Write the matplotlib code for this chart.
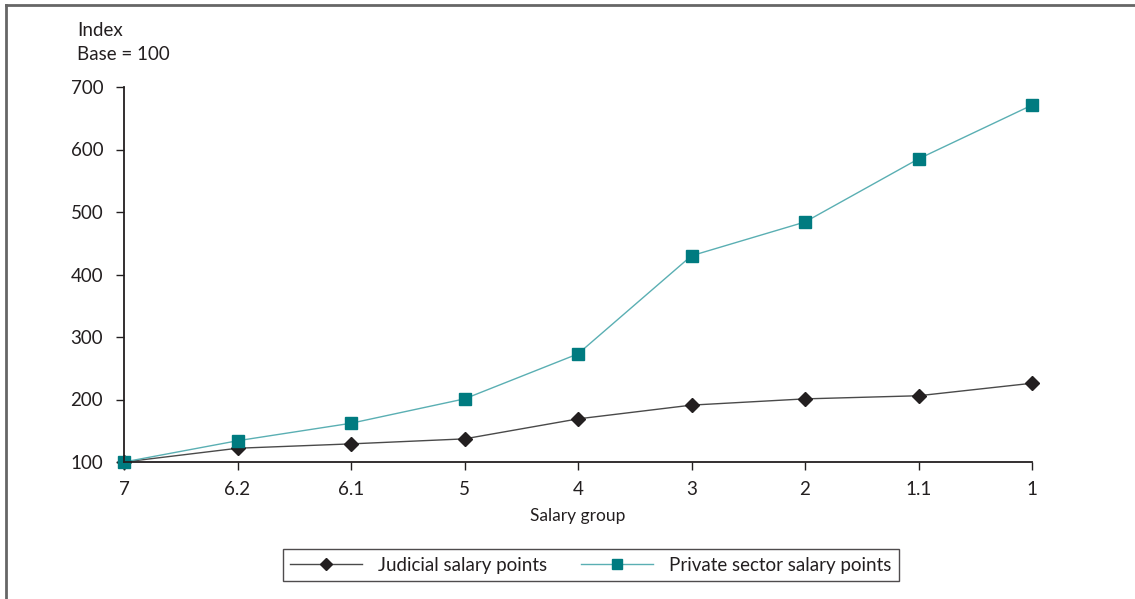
import matplotlib.pyplot as plt
from matplotlib.lines import Line2D

plt.rcParams['font.family'] = ['Lato', 'DejaVu Sans']

groups = ["7", "6.2", "6.1", "5", "4", "3", "2", "1.1", "1"]
judicial = [100, 122, 129, 137, 169, 191, 201, 206, 226]
private = [100, 134, 162, 201, 273, 430, 484, 585, 671]

fig = plt.figure(figsize=(11.35, 5.99), dpi=100)
W, H = 1135, 599
ax = fig.add_axes([124 / W, 1 - 462 / H, (1032 - 124) / W, (462 - 87) / H])

x = list(range(len(groups)))
ax.plot(x, judicial, color="#4a4a4a", lw=1, marker="D", ms=7.5,
        mfc="#231f20", mec="#231f20", label="Judicial salary points", clip_on=False)
ax.plot(x, private, color="#5aafb3", lw=1, marker="s", ms=9,
        mfc="#007b80", mec="#007b80", label="Private sector salary points", clip_on=False)

ax.set_xlim(0, len(groups) - 1)
ax.set_ylim(100, 700)
ax.set_yticks(range(100, 701, 100))
ax.set_xticks(x)
ax.set_xticklabels(groups)
ax.spines[["top", "right"]].set_visible(False)
ax.spines[["left", "bottom"]].set_linewidth(1.3)
ax.spines[["left", "bottom"]].set_color("#231f20")
ax.tick_params(axis="both", labelsize=13.5, colors="#231f20", length=6, width=1)
ax.tick_params(axis="y", pad=9)
ax.tick_params(axis="x", pad=8)
ax.set_xlabel("Salary group", fontsize=12.5, color="#231f20", labelpad=7)

fig.text(77 / W, 1 - 31 / H, "Index", fontsize=13.5, color="#231f20", va="center")
fig.text(77 / W, 1 - 54 / H, "Base = 100", fontsize=13.5, color="#231f20", va="center")

leg = fig.legend(loc="center", bbox_to_anchor=(591 / W, 1 - 565 / H), ncol=2,
                 frameon=True, fancybox=False, edgecolor="#231f20", fontsize=13.5,
                 handlelength=3.8, columnspacing=1.8, handletextpad=0.9,
                 borderpad=0.4, markerscale=0.8)
leg.get_frame().set_linewidth(1)
for t in leg.get_texts():
    t.set_color("#231f20")

# outer frame (top and left edges visible)
fig.add_artist(Line2D([6 / W, 1], [1 - 5 / H, 1 - 5 / H], transform=fig.transFigure,
                      color="#666666", lw=2))
fig.add_artist(Line2D([6 / W, 6 / W], [0, 1 - 5 / H], transform=fig.transFigure,
                      color="#666666", lw=2))

fig.savefig("out.png", dpi=100)
